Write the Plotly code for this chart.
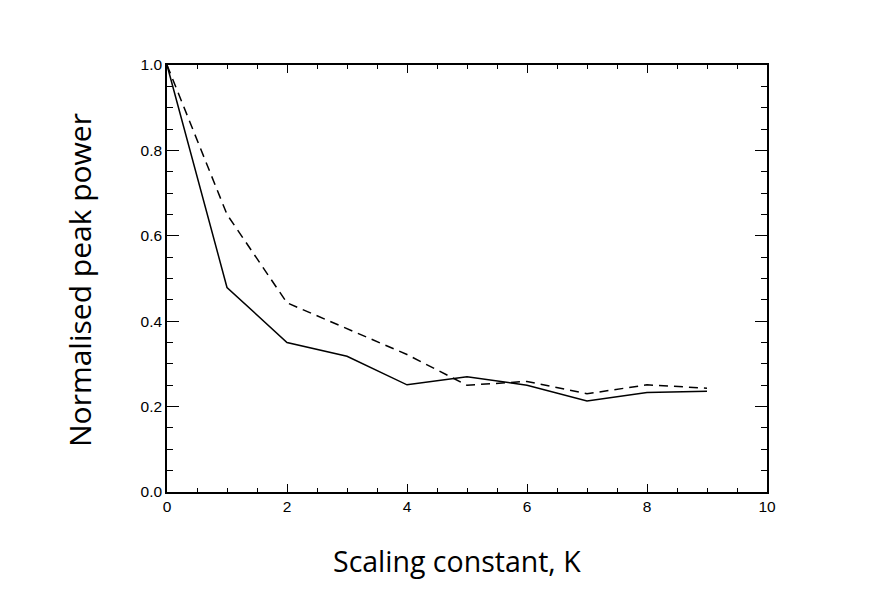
import plotly.graph_objects as go

# Scaling constant K
k_values = [0, 1, 2, 3, 4, 5, 6, 7, 8, 9]

# Normalised peak power, solid and dashed curves
power_solid = [1.0, 0.479, 0.35, 0.318, 0.251, 0.270, 0.250, 0.213, 0.233, 0.236]
power_dashed = [1.0, 0.650, 0.443, 0.383, 0.322, 0.250, 0.259, 0.230, 0.251, 0.243]

x_ticks = [0, 2, 4, 6, 8, 10]
y_ticks = [0.0, 0.2, 0.4, 0.6, 0.8, 1.0]
y_tick_labels = ['0.0', '0.2', '0.4', '0.6', '0.8', '1.0']

fig = go.Figure()
fig.add_trace(go.Scatter(x=k_values, y=power_solid, mode='lines',
                         line=dict(color='black', width=1.5)))
fig.add_trace(go.Scatter(x=k_values, y=power_dashed, mode='lines',
                         line=dict(color='black', width=1.5, dash='9px,6px')))

tick_font = dict(family='Liberation Sans, Arial', size=15.5, color='black')

# page has an 8px body margin, so the margins are shifted by that much
fig.update_layout(
    width=872, height=589,
    margin=dict(l=159, r=113, t=57, b=105),
    paper_bgcolor='white', plot_bgcolor='white',
    showlegend=False,
    xaxis=dict(
        range=[0, 10], tickvals=x_ticks, ticks='inside', ticklen=8, tickwidth=1.3,
        tickcolor='black', showline=True, linecolor='black', linewidth=1.5,
        mirror='ticks', showgrid=False, zeroline=False, tickfont=tick_font,
        automargin=False,
        minor=dict(dtick=0.5, ticks='inside', ticklen=4, tickwidth=1.3, tickcolor='black'),
    ),
    yaxis=dict(
        range=[0, 1.0], tickvals=y_ticks, ticktext=y_tick_labels, ticks='inside',
        ticklen=12, tickwidth=1.3, tickcolor='black', showline=True, linecolor='black',
        linewidth=1.5, mirror='ticks', showgrid=False, zeroline=False, tickfont=tick_font,
        automargin=False,
        minor=dict(dtick=0.05, ticks='inside', ticklen=6, tickwidth=1.3, tickcolor='black'),
    ),
)

# axis titles, placed as in the original slide (x title sits a bit left of centre)
fig.add_annotation(text='Scaling constant, K', xref='paper', yref='paper',
                   x=0.483, y=-0.162, xanchor='center', yanchor='middle', showarrow=False,
                   font=dict(family='Open Sans', size=28.5, color='black'))
fig.add_annotation(text='Normalised peak power', xref='paper', yref='paper',
                   x=-0.145, y=0.4965, xanchor='center', yanchor='middle', showarrow=False,
                   textangle=-90, font=dict(family='Open Sans', size=30, color='black'))

fig.write_html("out.html")
